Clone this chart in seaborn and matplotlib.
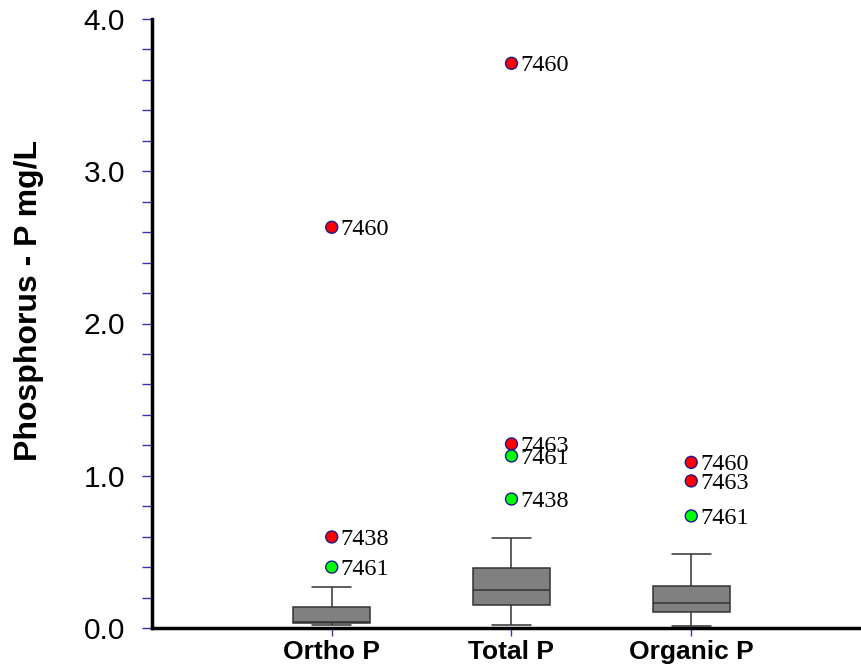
import matplotlib
matplotlib.use("Agg")
import matplotlib.pyplot as plt
import seaborn as sns
import pandas as pd
from matplotlib.ticker import MultipleLocator, FormatStrFormatter

# ---- data ----
categories = ["Ortho P", "Total P", "Organic P"]
# five-number summaries: lower whisker, Q1, median, Q3, upper whisker
ortho_box = [0.020, 0.031, 0.041, 0.136, 0.270]
total_box = [0.018, 0.149, 0.252, 0.396, 0.589]
organic_box = [0.013, 0.103, 0.166, 0.278, 0.484]

outlier_cat = ["Ortho P", "Ortho P", "Ortho P",
               "Total P", "Total P", "Total P", "Total P",
               "Organic P", "Organic P", "Organic P"]
outlier_val = [2.632, 0.598, 0.400,
               3.709, 1.209, 1.130, 0.847,
               1.088, 0.966, 0.736]
outlier_id = ["7460", "7438", "7461",
              "7460", "7463", "7461", "7438",
              "7460", "7463", "7461"]
outlier_kind = ["extreme", "extreme", "mild",
                "extreme", "extreme", "mild", "mild",
                "extreme", "extreme", "mild"]

y_label = "Phosphorus - P mg/L"

# ---- build tables ----
box_df = pd.DataFrame({
    "group": [c for c, vals in zip(categories, [ortho_box, total_box, organic_box]) for _ in vals],
    "value": ortho_box + total_box + organic_box,
})
out_df = pd.DataFrame({"group": outlier_cat, "value": outlier_val,
                       "id": outlier_id, "kind": outlier_kind})

sns.set_theme(style="white")
plt.rcParams["font.family"] = ["Liberation Sans", "DejaVu Sans"]
plt.rcParams["text.color"] = "black"
plt.rcParams["axes.labelcolor"] = "black"
plt.rcParams["xtick.labelcolor"] = "black"
plt.rcParams["ytick.labelcolor"] = "black"

fig = plt.figure(figsize=(8.62, 6.69), dpi=100)
ax = fig.add_axes([152 / 862, 41 / 669, 710 / 862, 609 / 669])

sns.boxplot(data=box_df, x="group", y="value", order=categories,
            whis=(0, 100), width=0.43, color="#808080", saturation=1,
            linecolor="#333333", linewidth=1.1, showfliers=False, ax=ax)

sns.stripplot(data=out_df, x="group", y="value", order=categories,
              hue="kind", palette={"extreme": "#ff0000", "mild": "#00ff00"},
              jitter=False, dodge=False, size=8.6, linewidth=1,
              edgecolor="#1a1a8c", legend=False, zorder=5, ax=ax)

for cat, val, lab in zip(outlier_cat, outlier_val, outlier_id):
    ax.annotate(lab, (categories.index(cat), val), xytext=(6.5, -1.5),
                textcoords="offset points", va="center", ha="left",
                fontsize=17.5, family=["Liberation Serif", "DejaVu Serif"],
                color="black", zorder=6)

ax.set_xlim(-1.0, 2.95)
ax.set_ylim(0, 4.0)

ax.yaxis.set_major_locator(MultipleLocator(1.0))
ax.yaxis.set_minor_locator(MultipleLocator(0.2))
ax.yaxis.set_major_formatter(FormatStrFormatter("%.1f"))

ax.tick_params(axis="y", which="both", direction="out", length=7.5, width=1,
               color="#3333aa", labelcolor="black", left=True, pad=12,
               labelsize=21.5)
ax.tick_params(axis="x", which="both", direction="out", length=6, width=1,
               color="#3333aa", labelcolor="black", bottom=True, pad=2.5)
for t in ax.get_xticklabels():
    t.set_fontsize(19)
    t.set_fontweight("bold")
    t.set_color("black")

for s in ["top", "right"]:
    ax.spines[s].set_visible(False)
for s in ["left", "bottom"]:
    ax.spines[s].set_linewidth(2.5)
    ax.spines[s].set_color("black")

ax.set_xlabel("")
ax.set_ylabel(y_label, fontsize=23, fontweight="bold", color="black")
ax.yaxis.set_label_coords(-0.152, 0.537)

fig.savefig("out.png", dpi=100)
